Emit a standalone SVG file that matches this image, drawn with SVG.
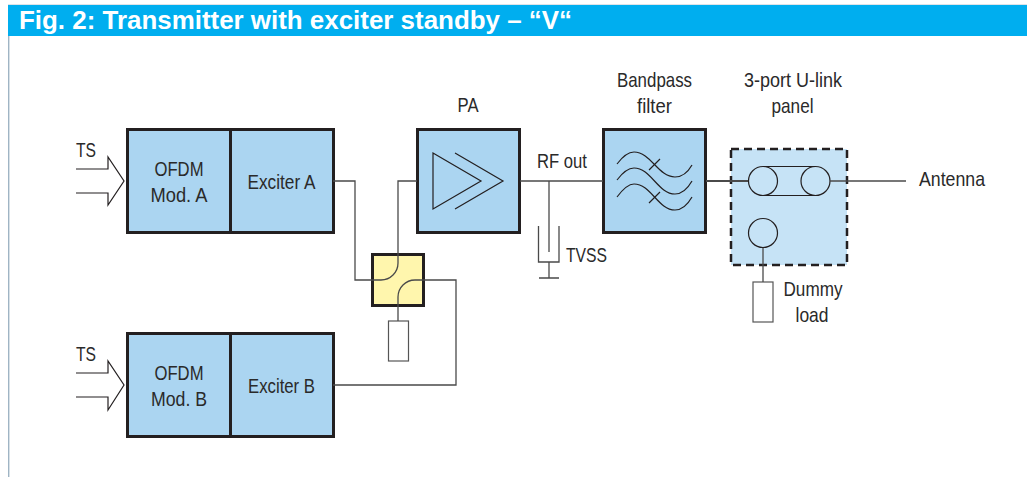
<svg xmlns="http://www.w3.org/2000/svg" width="1027" height="477" viewBox="0 0 1027 477">
<style>
.t{font-family:"Liberation Sans Narrow","Liberation Sans",Arial,sans-serif;font-size:21px;fill:#2a2a2a}
.m{text-anchor:middle}
.box{fill:#abd5f1;stroke:#231f20;stroke-width:3}
.ln{fill:none;stroke:#4a4a4a;stroke-width:1.3}
.dk{fill:none;stroke:#231f20;stroke-width:1.2}
.wh{fill:#fff;stroke:#555;stroke-width:1.2}
</style>
<rect width="1027" height="477" fill="#fff"/>
<rect x="8" y="4" width="1019" height="1.5" fill="#dde3e8"/>
<rect x="8" y="36" width="1.4" height="441" fill="#9fb4c4"/>
<rect x="8" y="5" width="1019" height="31" fill="#00aeef"/>
<text x="19" y="29" font-family="'Liberation Sans',Arial,sans-serif" font-weight="700" font-size="25" fill="#fff" textLength="553" lengthAdjust="spacingAndGlyphs">Fig. 2: Transmitter with exciter standby – “V“</text>
<g id="input-a">
<path class="dk" d="M76 169H108V157L124 181L108 205V193H76"/>
<text class="t" x="76" y="157" textLength="20" lengthAdjust="spacingAndGlyphs">TS</text>
</g>
<g id="mod-a">
<rect class="box" x="127.500" y="129.500" width="103" height="103"/>
<text class="t m" x="179" y="176" textLength="49" lengthAdjust="spacingAndGlyphs">OFDM</text>
<text class="t m" x="179" y="202" textLength="57" lengthAdjust="spacingAndGlyphs">Mod. A</text>
</g>
<g id="exciter-a">
<rect class="box" x="230.500" y="129.500" width="103" height="103"/>
<text class="t m" x="281.500" y="189" textLength="68" lengthAdjust="spacingAndGlyphs">Exciter A</text>
</g>
<g id="input-b">
<path class="dk" d="M76 373H108V361L124 385L108 410V397H76"/>
<text class="t" x="76" y="361" textLength="20" lengthAdjust="spacingAndGlyphs">TS</text>
</g>
<g id="mod-b">
<rect class="box" x="127.500" y="333.500" width="103" height="103"/>
<text class="t m" x="179" y="380" textLength="49" lengthAdjust="spacingAndGlyphs">OFDM</text>
<text class="t m" x="179" y="406" textLength="56" lengthAdjust="spacingAndGlyphs">Mod. B</text>
</g>
<g id="exciter-b">
<rect class="box" x="230.500" y="333.500" width="103" height="103"/>
<text class="t m" x="281.500" y="393" textLength="67" lengthAdjust="spacingAndGlyphs">Exciter B</text>
</g>
<g id="coupler">
<rect x="372.500" y="254.500" width="51" height="51" fill="#fff6ad" stroke="#231f20" stroke-width="3"/>
</g>
<g id="coupler-load">
<rect class="wh" x="388.500" y="321" width="20" height="40"/>
</g>
<g id="pa">
<rect class="box" x="417.500" y="129.500" width="102" height="103"/>
<path class="dk" d="M433 153L481 181L433 209ZM455 153L503 181L455 209"/>
<text class="t m" x="468" y="112" textLength="21" lengthAdjust="spacingAndGlyphs">PA</text>
</g>
<g id="rf-out">
<text class="t" x="537" y="168" textLength="50" lengthAdjust="spacingAndGlyphs">RF out</text>
</g>
<g id="tvss">
<path class="ln" d="M538.500 226V262H559V226M549 262V278M539 278H559"/>
<text class="t" x="566" y="262" textLength="41" lengthAdjust="spacingAndGlyphs">TVSS</text>
</g>
<g id="bandpass">
<rect class="box" x="603.500" y="129.500" width="102" height="103"/>
<path class="dk" d="M617 164C623 156 628 152 634 152C651 152 658 177 675 177C682 177 688 172 692 165"/>
<path class="dk" d="M617 180C623 172 628 168 634 168C651 168 658 194 675 194C682 194 688 188 692 181"/>
<path class="dk" d="M617 197C623 189 628 184 634 184C651 184 658 210 675 210C682 210 688 204 692 197"/>
<path class="dk" d="M649 170L660 159M649 203L660 192"/>
<text class="t m" x="654.500" y="87" textLength="75" lengthAdjust="spacingAndGlyphs">Bandpass</text>
<text class="t m" x="654.500" y="113" textLength="35" lengthAdjust="spacingAndGlyphs">filter</text>
</g>
<g id="panel">
<rect x="731" y="149" width="116" height="116" fill="#c6e3f6" stroke="#231f20" stroke-width="2.500" stroke-dasharray="8 5"/>
<path class="dk" d="M763 166.500H815.500M763 195.500H815.500"/>
<circle class="dk" cx="763" cy="181" r="14.500"/>
<circle class="dk" cx="815.500" cy="181" r="14.500"/>
<circle class="dk" cx="763" cy="233" r="14.500"/>
<text class="t m" x="793" y="87" textLength="98" lengthAdjust="spacingAndGlyphs">3-port U-link</text>
<text class="t m" x="792.500" y="113" textLength="42" lengthAdjust="spacingAndGlyphs">panel</text>
</g>
<g id="dummy-load">
<rect class="wh" x="753" y="282" width="20" height="40"/>
<text class="t m" x="813" y="296" textLength="59" lengthAdjust="spacingAndGlyphs">Dummy</text>
<text class="t m" x="812" y="322" textLength="33" lengthAdjust="spacingAndGlyphs">load</text>
</g>
<g id="antenna">
<text class="t" x="919" y="186" textLength="66" lengthAdjust="spacingAndGlyphs">Antenna</text>
</g>
<g id="connectors">
<path class="ln" d="M333 181H355V280H381A17 17 0 0 0 398 263V181H417"/>
<path class="ln" d="M398 321V297A17 17 0 0 1 415 280H456V385H333"/>
<path class="ln" d="M520 181H603"/>
<path class="ln" d="M549 181V252"/>
<path class="ln" d="M706 181H748" style="stroke-width:1.800"/>
<path class="ln" d="M830 181H906"/>
<path class="ln" d="M763 248V282"/>
</g>
</svg>
